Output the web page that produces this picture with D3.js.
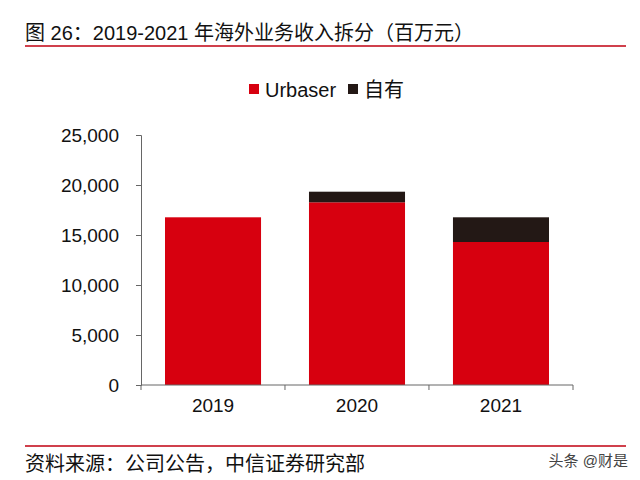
<!DOCTYPE html>
<html><head><meta charset="utf-8">
<script src="https://cdn.jsdelivr.net/npm/d3@7"></script>
<style>body{margin:0;background:#fff}</style>
</head><body>
<svg id="c" width="640" height="480"></svg>
<script>
const categories = ["2019","2020","2021"];
const urbaser = [16770, 18270, 14300];
const own = [0, 1060, 2470];
const yTicks = [0,5000,10000,15000,20000,25000];
const seriesNames = ["Urbaser","自有"];
const colors = ["#D7000F","#231815"];

const svg = d3.select("#c");
const font = "Arial, 'Liberation Sans', 'Noto Sans CJK SC', sans-serif";
svg.append("text").attr("x",25).attr("y",40).attr("font-family",font).attr("font-size",20).attr("fill","#111")
  .text("图 26：2019-2021 年海外业务收入拆分（百万元）");
svg.append("line").attr("x1",25).attr("x2",626).attr("y1",46).attr("y2",46).attr("stroke","#C00010").attr("stroke-width",1.6);

const x = d3.scaleBand().domain(categories).range([141,573]).paddingInner(0.333).paddingOuter(0.1667);
const y = d3.scaleLinear().domain([0,25000]).range([385,135]);

const data = categories.map((c,i)=>({cat:c, Urbaser:urbaser[i], "自有":own[i]}));
const stack = d3.stack().keys(seriesNames)(data);
svg.append("g").selectAll("g").data(stack).join("g").attr("fill",(d,i)=>colors[i])
  .selectAll("rect").data(d=>d).join("rect")
  .attr("x",d=>x(d.data.cat)).attr("width",x.bandwidth())
  .attr("y",d=>y(d[1])).attr("height",d=>y(d[0])-y(d[1]));

const ya = svg.append("g").attr("transform","translate(141,0)")
  .call(d3.axisLeft(y).tickValues(yTicks).tickSize(5).tickPadding(17).tickFormat(d3.format(",")));
const xa = svg.append("g").attr("transform","translate(0,385)")
  .call(d3.axisBottom(x).tickSize(0).tickPadding(14));
const step = x.step();
const bounds = [141, 141+step, 141+2*step, 573];
svg.append("g").selectAll("line").data(bounds).join("line")
  .attr("x1",d=>d).attr("x2",d=>d).attr("y1",385).attr("y2",390).attr("stroke","#666");
[ya,xa].forEach(a=>{a.selectAll("path,line").attr("stroke","#666");
  a.selectAll("text").attr("font-family",font).attr("font-size",19).attr("fill","#111");});
xa.select(".domain").attr("d","M141,0H573");

const leg = svg.append("g");
const legX = [249, 348];
seriesNames.forEach((n,i)=>{
  leg.append("rect").attr("x",legX[i]).attr("y",84).attr("width",10).attr("height",10).attr("fill",colors[i]);
  leg.append("text").attr("x",legX[i]+16).attr("y",97).attr("font-family",font).attr("font-size",20).attr("fill","#111").text(n);
});

svg.append("line").attr("x1",25).attr("x2",626).attr("y1",446).attr("y2",446).attr("stroke","#C00010").attr("stroke-width",1.6);
svg.append("text").attr("x",25).attr("y",471).attr("font-family",font).attr("font-size",20).attr("fill","#111")
  .text("资料来源：公司公告，中信证券研究部");
svg.append("text").attr("x",628).attr("y",466).attr("text-anchor","end").attr("font-family",font).attr("font-size",15).attr("fill","#444")
  .text("头条 @财是");
</script>
</body></html>
